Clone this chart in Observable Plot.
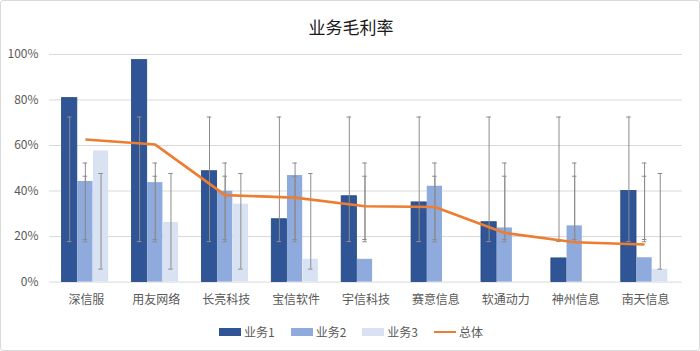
<!DOCTYPE html>
<html>
<head>
<meta charset="utf-8">
<script src="https://cdn.jsdelivr.net/npm/d3@7"></script>
<script src="https://cdn.jsdelivr.net/npm/@observablehq/plot@0.6"></script>
<style>
  html, body { margin: 0; padding: 0; background: #fff; }
  #wrap { position: relative; width: 700px; height: 351px; box-sizing: border-box; border: 1px solid #d9d9d9; border-radius: 3px; overflow: hidden; font-family: "Noto Sans CJK SC", "Noto Sans", sans-serif; }
  #title { position: absolute; left: 0; top: 14px; width: 700px; text-align: center; font-size: 17px; font-weight: 400; color: #1a1a1a; line-height: 24px; }
  #chart { position: absolute; left: -1px; top: -1px; }
  #legend { position: absolute; left: 0; top: 322px; width: 700px; display: flex; justify-content: center; align-items: center; font-size: 12px; color: #595959; line-height: 18px; }
  .item { display: flex; align-items: center; margin: 0 8px; }
  .sw { width: 22px; height: 8px; margin-right: 3px; }
  .ln { width: 22px; height: 2.5px; margin-right: 3px; }
</style>
</head>
<body>
<div id="wrap">
  <div id="title">业务毛利率</div>
  <div id="chart"></div>
  <div id="legend"></div>
</div>
<script>
const categories = ["深信服","用友网络","长亮科技","宝信软件","宇信科技","赛意信息","软通动力","神州信息","南天信息"];
const seriesNames = ["业务1","业务2","业务3"];
const totalName = "总体";
const biz1 = [80.8, 97.5, 48.7, 27.6, 37.7, 35.0, 26.3, 10.4, 40.0];
const biz2 = [44.2, 43.7, 39.9, 46.8, 10.0, 42.1, 23.8, 24.7, 10.7];
const biz3 = [57.6, 26.2, 34.2, 10.0, null, null, null, null, 5.6];
const total = [62.6, 60.4, 38.2, 37.1, 33.3, 33.0, 21.6, 17.5, 16.5];
// error bar ranges [low, high] per series
const err1 = [17.8, 72.5];
const err2 = [17.7, 46.5];
const err3 = [5.7, 47.7];
const errTotal = [18.7, 52.3];
const yTicks = [0, 20, 40, 60, 80, 100];

const colors = ["#2F5597", "#8FAADC", "#D9E2F3"];
const lineColor = "#ED7D31";
const errColor = "#8c8c8c";

const W = 700, H = 312, mL = 49, mR = 17, mT = 54, mB = 30;
const band = (W - mL - mR) / categories.length;
const bw = 15.7;
const inset = (band - bw) / 2;
const capHalf = 2.5;

const seriesVals = [biz1, biz2, biz3];
const seriesErr = [err1, err2, err3];

const marks = [
  Plot.ruleY(yTicks, {stroke: "#d9d9d9", strokeWidth: 1})
];
seriesVals.forEach((vals, i) => {
  const data = categories.map((c, j) => ({cat: c, v: vals[j]})).filter(d => d.v != null);
  marks.push(Plot.barY(data, {
    x: "cat", y: "v", fill: colors[i], dx: (i - 1) * bw - 1,
    insetLeft: inset, insetRight: inset,
    stroke: i === 0 ? "#24477f" : "none", strokeWidth: i === 0 ? 0.8 : 0
  }));
});
seriesVals.forEach((vals, i) => {
  const data = categories.map((c, j) => ({cat: c, v: vals[j], lo: seriesErr[i][0], hi: seriesErr[i][1]})).filter(d => d.v != null);
  const dx = (i - 1) * bw - 1;
  marks.push(Plot.ruleX(data, {x: "cat", y1: "lo", y2: "hi", dx, stroke: errColor, strokeWidth: 1}));
  marks.push(Plot.tickY(data, {x: "cat", y: "lo", dx, stroke: errColor, insetLeft: band / 2 - capHalf, insetRight: band / 2 - capHalf}));
  marks.push(Plot.tickY(data, {x: "cat", y: "hi", dx, stroke: errColor, insetLeft: band / 2 - capHalf, insetRight: band / 2 - capHalf}));
});
const totalData = categories.map((c, j) => ({cat: c, v: total[j], lo: errTotal[0], hi: errTotal[1]}));
marks.push(Plot.ruleX(totalData, {x: "cat", y1: "lo", y2: "hi", dx: -1, stroke: errColor, strokeWidth: 1}));
marks.push(Plot.tickY(totalData, {x: "cat", y: "lo", dx: -1, stroke: errColor, insetLeft: band / 2 - capHalf, insetRight: band / 2 - capHalf}));
marks.push(Plot.tickY(totalData, {x: "cat", y: "hi", dx: -1, stroke: errColor, insetLeft: band / 2 - capHalf, insetRight: band / 2 - capHalf}));
marks.push(Plot.lineY(totalData, {x: "cat", y: "v", dx: -1, stroke: lineColor, strokeWidth: 2.6, strokeLinejoin: "round", strokeLinecap: "butt"}));

const chart = Plot.plot({
  width: W, height: H,
  marginLeft: mL, marginRight: mR, marginTop: mT, marginBottom: mB,
  style: {fontFamily: '"Noto Sans CJK SC", "Noto Sans", sans-serif', fontSize: "12px", color: "#595959", background: "transparent"},
  x: {domain: categories, padding: 0, label: null, tickSize: 0, tickPadding: 13},
  y: {domain: [0, 100], ticks: yTicks, tickFormat: d => d + "%", label: null, tickSize: 0, tickPadding: 11},
  marks
});
document.getElementById("chart").appendChild(chart);

const legend = document.getElementById("legend");
seriesNames.forEach((n, i) => {
  const it = document.createElement("div");
  it.className = "item";
  it.innerHTML = `<span class="sw" style="background:${colors[i]}"></span><span>${n}</span>`;
  legend.appendChild(it);
});
const it = document.createElement("div");
it.className = "item";
it.innerHTML = `<span class="ln" style="background:${lineColor}"></span><span>${totalName}</span>`;
legend.appendChild(it);
</script>
</body>
</html>
